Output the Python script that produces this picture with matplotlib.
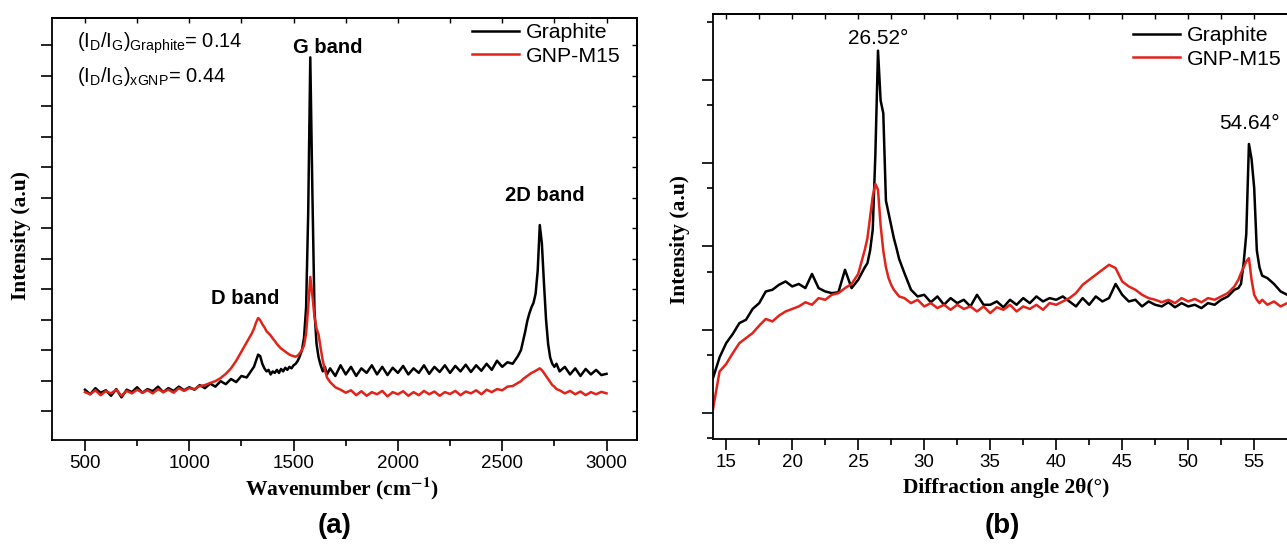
import numpy as np
import matplotlib
matplotlib.use("Agg")
import matplotlib.pyplot as plt
from matplotlib.ticker import MultipleLocator, NullFormatter, LogLocator

plt.rcParams['font.family'] = ['Liberation Sans', 'DejaVu Sans']
plt.rcParams['mathtext.fontset'] = 'custom'
plt.rcParams['mathtext.rm'] = 'Liberation Sans'
plt.rcParams['mathtext.it'] = 'Liberation Sans:italic'
plt.rcParams['mathtext.bf'] = 'Liberation Sans:bold'

# ---------------- data: Raman (panel a) ----------------
raman_shift = np.concatenate([np.arange(500, 1301, 25), np.arange(1310, 1661, 10),
                              np.arange(1675, 2576, 25), np.arange(2590, 2761, 10),
                              np.arange(2775, 3001, 25)])
raman_graphite = [
    1.70, 1.55, 1.75, 1.60, 1.68, 1.50, 1.72, 1.45, 1.70, 1.62, 1.78, 1.60, 1.72, 1.65, 1.80, 1.62,
    1.75, 1.66, 1.80, 1.68, 1.78, 1.70, 1.85, 1.75, 1.90, 1.80, 1.98, 1.88, 2.05, 1.95, 2.15, 2.10, 2.35,
    2.45, 2.65, 2.85, 2.80, 2.55, 2.40, 2.30, 2.35, 2.20, 2.30, 2.25, 2.35, 2.25, 2.38, 2.30, 2.42,
    2.35, 2.45, 2.40, 2.50, 2.55, 2.65, 2.80, 3.00, 3.40, 4.40, 7.50, 12.60, 8.20, 4.30, 3.20, 2.75,
    2.50, 2.30, 2.45, 2.20,
    2.40, 2.15, 2.50, 2.20, 2.45, 2.15, 2.40, 2.25, 2.50, 2.20, 2.45, 2.18, 2.42, 2.25, 2.48, 2.20,
    2.40, 2.25, 2.50, 2.22, 2.45, 2.28, 2.50, 2.25, 2.48, 2.30, 2.52, 2.28, 2.50, 2.32, 2.55, 2.35,
    2.65, 2.45, 2.60, 2.55, 2.80,
    3.00, 3.30, 3.60, 3.95, 4.20, 4.40, 4.55, 4.85, 5.60, 7.10, 6.50, 5.20, 4.00, 3.20, 2.75, 2.55,
    2.45, 2.55,
    2.30, 2.45, 2.20, 2.40, 2.15, 2.38, 2.20, 2.35, 2.18, 2.22]
raman_gnp = [
    1.62, 1.55, 1.68, 1.52, 1.65, 1.58, 1.70, 1.50, 1.66, 1.58, 1.70, 1.60, 1.68, 1.58, 1.72, 1.62,
    1.70, 1.60, 1.75, 1.66, 1.75, 1.72, 1.82, 1.85, 1.92, 1.98, 2.08, 2.22, 2.40, 2.65, 2.95, 3.25, 3.55,
    3.70, 3.90, 4.05, 3.98, 3.85, 3.75, 3.62, 3.55, 3.48, 3.38, 3.30, 3.20, 3.12, 3.05, 3.00, 2.95,
    2.90, 2.85, 2.82, 2.80, 2.78, 2.82, 2.90, 3.00, 3.15, 3.55, 4.40, 5.40, 4.80, 4.10, 3.70, 3.50,
    3.05, 2.65, 2.35, 2.10,
    1.95, 1.78, 1.70, 1.60, 1.68, 1.52, 1.65, 1.50, 1.62, 1.55, 1.66, 1.48, 1.62, 1.55, 1.65, 1.50,
    1.62, 1.52, 1.66, 1.55, 1.64, 1.50, 1.62, 1.56, 1.66, 1.52, 1.64, 1.58, 1.68, 1.55, 1.70, 1.62,
    1.72, 1.68, 1.80, 1.82, 1.92,
    1.98, 2.05, 2.10, 2.15, 2.20, 2.25, 2.28, 2.32, 2.36, 2.40, 2.34, 2.25, 2.15, 2.05, 1.95, 1.85,
    1.80, 1.72,
    1.68, 1.58, 1.66, 1.55, 1.64, 1.52, 1.62, 1.55, 1.63, 1.58]

# ---------------- data: XRD (panel b), log10 of counts ----------------
two_theta = np.concatenate([np.arange(14.0, 25.51, 0.5), np.round(np.arange(25.7, 28.11, 0.2), 1),
                            np.arange(28.5, 53.51, 0.5), np.round(np.arange(53.8, 55.61, 0.2), 1),
                            np.arange(56.0, 58.01, 0.5)])
xrd_graphite_log = [
    1.42, 1.67, 1.84, 1.95, 2.08, 2.12, 2.25, 2.32, 2.46, 2.48, 2.54, 2.58, 2.52, 2.55, 2.50, 2.67,
    2.50, 2.46, 2.44, 2.45, 2.72, 2.50, 2.60, 2.75,
    2.80, 2.95, 3.20, 4.10, 5.35, 4.75, 4.60, 3.55, 3.40, 3.25, 3.10, 2.98, 2.85,
    2.68, 2.48, 2.40, 2.42, 2.33, 2.40, 2.30, 2.38, 2.32, 2.36, 2.28, 2.42, 2.30, 2.30, 2.34, 2.27,
    2.36, 2.30, 2.38, 2.32, 2.40, 2.34, 2.38, 2.36, 2.40, 2.34, 2.28, 2.38, 2.30, 2.40, 2.34, 2.38,
    2.55, 2.42, 2.34, 2.36, 2.28, 2.34, 2.30, 2.28, 2.33, 2.27, 2.32, 2.28, 2.30, 2.26, 2.32, 2.30,
    2.36, 2.40, 2.48,
    2.50, 2.55, 2.80, 3.15, 4.23, 4.05, 3.70, 2.95, 2.75, 2.65,
    2.62, 2.55, 2.46, 2.42, 2.40]
xrd_gnp_log = [
    1.05, 1.50, 1.59, 1.72, 1.84, 1.90, 1.96, 2.05, 2.13, 2.10, 2.17, 2.22, 2.25, 2.28, 2.33, 2.30,
    2.38, 2.36, 2.42, 2.44, 2.50, 2.55, 2.67, 2.96,
    3.10, 3.35, 3.60, 3.75, 3.68, 3.25, 2.95, 2.75, 2.62, 2.54, 2.48, 2.44, 2.40,
    2.38, 2.32, 2.36, 2.28, 2.32, 2.26, 2.30, 2.24, 2.30, 2.25, 2.28, 2.22, 2.28, 2.20, 2.27, 2.24,
    2.30, 2.22, 2.28, 2.25, 2.30, 2.24, 2.32, 2.30, 2.34, 2.38, 2.44, 2.54, 2.60, 2.66, 2.72, 2.78,
    2.74, 2.58, 2.52, 2.48, 2.42, 2.38, 2.36, 2.33, 2.36, 2.32, 2.38, 2.34, 2.37, 2.33, 2.38, 2.36,
    2.40, 2.44, 2.52,
    2.60, 2.68, 2.75, 2.82, 2.86, 2.60, 2.42, 2.36, 2.32, 2.36,
    2.30, 2.34, 2.28, 2.32, 2.30]

series_labels = ['Graphite', 'GNP-M15']
series_colors = ['#000000', '#e2231a']

# ---------------- figure ----------------
W, H = 1287, 545
fig = plt.figure(figsize=(W / 100, H / 100), dpi=100)


def px_axes(l, t, r, b):
    return fig.add_axes([l / W, 1 - b / H, (r - l) / W, (b - t) / H])


def fx(x):
    return x / W


def fy(y):
    return 1 - y / H


tick_fs = 13.5
label_font = dict(family=['Liberation Serif', 'DejaVu Serif'], weight='bold', fontsize=15.5)
legend_kw = dict(loc='upper left', frameon=False, fontsize=15.3, handlelength=2.2,
                 handletextpad=0.35, labelspacing=0.22, borderpad=0, borderaxespad=0)

# ---- panel (a) ----
ax1 = px_axes(52, 18, 637, 440)
ax1.plot(raman_shift, raman_graphite, color=series_colors[0], lw=1.8, label=series_labels[0])
ax1.plot(raman_shift, raman_gnp, color=series_colors[1], lw=1.8, label=series_labels[1])
ax1.set_xlim(342, 3146)
ax1.set_ylim(0.05, 13.89)
ax1.xaxis.set_major_locator(MultipleLocator(500))
ax1.xaxis.set_minor_locator(MultipleLocator(250))
ax1.yaxis.set_major_locator(MultipleLocator(1))
ax1.yaxis.set_major_formatter(NullFormatter())
ax1.tick_params(axis='both', which='both', direction='out', width=1.2, labelsize=tick_fs, pad=3)
ax1.tick_params(axis='x', which='major', length=8)
ax1.tick_params(axis='x', which='minor', length=4)
ax1.tick_params(axis='y', which='major', length=8)
sx = ax1.secondary_xaxis('top')
sx.xaxis.set_major_locator(MultipleLocator(500))
sx.xaxis.set_minor_locator(MultipleLocator(250))
sx.xaxis.set_major_formatter(NullFormatter())
sx.tick_params(axis='x', which='both', direction='in', length=3.5, width=1.0)
sy = ax1.secondary_yaxis('right')
sy.yaxis.set_major_locator(MultipleLocator(1))
sy.yaxis.set_major_formatter(NullFormatter())
sy.tick_params(axis='y', which='both', direction='in', length=3.5, width=1.0)
for a in (ax1, sx, sy):
    for s in a.spines.values():
        s.set_linewidth(1.3)

ax1.text(1665, 12.93, 'G band', ha='center', va='center', fontsize=14.5, fontweight='bold')
ax1.text(1267, 4.70, 'D band', ha='center', va='center', fontsize=14.5, fontweight='bold')
ax1.text(2705, 8.08, '2D band', ha='center', va='center', fontsize=14.5, fontweight='bold')
fig.text(fx(77), fy(47.3), r'$\mathregular{(I_D/I_G)_{Graphite}}$= 0.14', fontsize=14.5, va='baseline')
fig.text(fx(77), fy(81.7), r'$\mathregular{(I_D/I_G)_{xGNP}}$= 0.44', fontsize=14.5, va='baseline')
ax1.legend(bbox_to_anchor=(fx(472), fy(23)), bbox_transform=fig.transFigure, **legend_kw)

fig.text(fx(21), fy(235), 'Intensity (a.u)', rotation=90, ha='center', va='center', **label_font)
fig.text(fx(342), fy(488), 'Wavenumber (cm$^{\\mathbf{-1}}$)', ha='center', va='center',
         math_fontfamily='stix', **label_font)
fig.text(fx(335), fy(526), '(a)', ha='center', va='center', fontsize=20, fontweight='bold')

# ---- panel (b) ----  (right edge of the plot is cropped at the figure border)
ax2 = px_axes(713, 14, 1287, 439)
ax2.plot(two_theta, np.power(10.0, xrd_graphite_log), color=series_colors[0], lw=1.8,
         label=series_labels[0])
ax2.plot(two_theta, np.power(10.0, xrd_gnp_log), color=series_colors[1], lw=1.8,
         label=series_labels[1])
ax2.set_yscale('log')
ax2.set_xlim(14, 14 + (1287 - 713) / 13.2)
ax2.set_ylim(10 ** 0.689, 10 ** 5.79)
ax2.xaxis.set_major_locator(MultipleLocator(5))
ax2.xaxis.set_minor_locator(MultipleLocator(2.5))
ax2.yaxis.set_major_locator(LogLocator(base=10, numticks=20))
ax2.yaxis.set_minor_locator(LogLocator(base=10, subs=[5.0], numticks=20))
ax2.yaxis.set_major_formatter(NullFormatter())
ax2.yaxis.set_minor_formatter(NullFormatter())
ax2.tick_params(axis='both', which='both', direction='out', width=1.2, labelsize=tick_fs, pad=3)
ax2.tick_params(axis='both', which='major', length=8)
ax2.tick_params(axis='both', which='minor', length=4.5)
ax2.spines['right'].set_visible(False)
sx2 = ax2.secondary_xaxis('top')
sx2.xaxis.set_major_locator(MultipleLocator(5))
sx2.xaxis.set_minor_locator(MultipleLocator(2.5))
sx2.xaxis.set_major_formatter(NullFormatter())
sx2.tick_params(axis='x', which='both', direction='in', length=3.5, width=1.0)
for a in (ax2, sx2):
    for s in a.spines.values():
        s.set_linewidth(1.3)

ax2.text(26.52, 10 ** 5.38, '26.52°', ha='center', va='bottom', fontsize=15)
ax2.text(54.64, 10 ** 4.36, '54.64°', ha='center', va='bottom', fontsize=15)
ax2.legend(bbox_to_anchor=(fx(1133), fy(26)), bbox_transform=fig.transFigure, **legend_kw)

fig.text(fx(680), fy(240), 'Intensity (a.u)', rotation=90, ha='center', va='center', **label_font)
fig.text(fx(1006), fy(488), 'Diffraction angle 2θ(°)', ha='center', va='center', **label_font)
fig.text(fx(1002), fy(526), '(b)', ha='center', va='center', fontsize=20, fontweight='bold')

fig.savefig('out.png', dpi=100, facecolor='white')
